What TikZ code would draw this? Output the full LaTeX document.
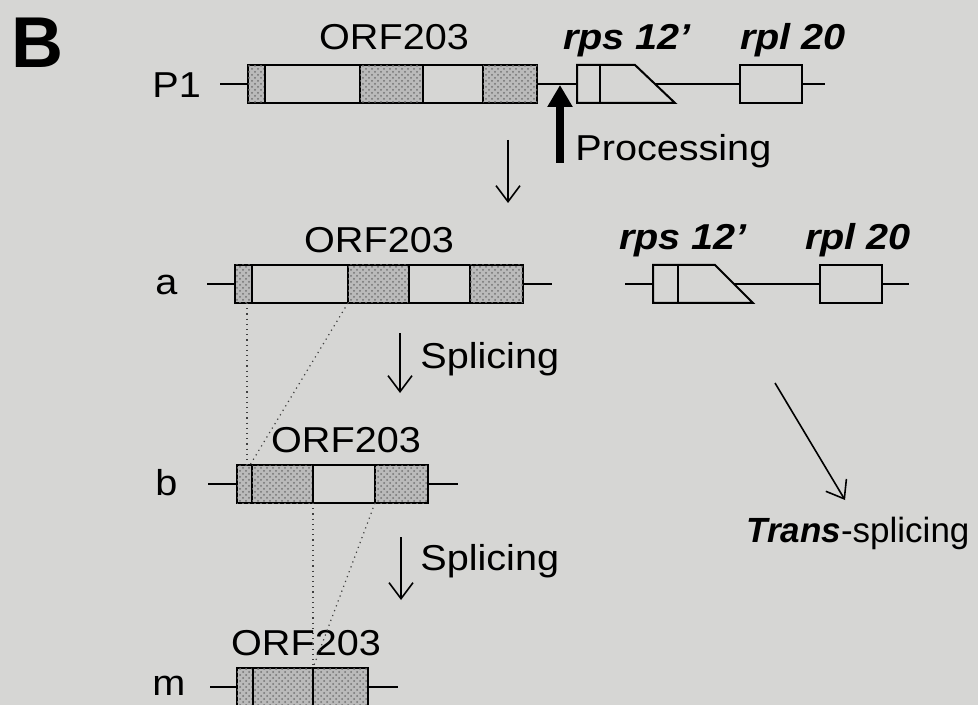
\documentclass[tikz,border=0pt]{standalone}
\usepackage{fontspec}
\setmainfont{Liberation Sans}[FakeStretch=1.1]
\newfontfamily\panelfont{Liberation Sans}
\usetikzlibrary{arrows.meta,patterns}
\definecolor{paper}{RGB}{214,214,212}

\begin{document}
\begin{tikzpicture}[x=0.5pt,y=-0.5pt,
  txt/.style={inner sep=0pt,font=\fontsize{18}{20}\selectfont},
  genename/.style={inner sep=0pt,font=\fontsize{18}{20}\selectfont\bfseries\itshape},
  strand/.style={line width=0.9pt},
  intron/.style={draw,line width=1pt},
  exon/.style={draw,line width=1pt,fill=black!27,postaction={pattern=crosshatch dots,pattern color=black!55}},
  guide/.style={dotted,line width=0.6pt,black!75},
  flow/.style={line width=0.8pt,-{Straight Barb[length=8pt,width=12pt]}}]
\useasboundingbox (0,0) rectangle (978,705);
\clip (0,0) rectangle (978,705);
\fill[paper] (0,0) rectangle (978,705);

\node[inner sep=0pt,anchor=base west,font=\panelfont\fontsize{36}{40}\selectfont\bfseries] (panel) at (11,68) {B};

% precursor P1
\node[txt,anchor=base west] (lblP) at (152,98) {P1};
\node[txt,anchor=base] (orfP) at (394,50) {ORF203};
\node[genename,anchor=base] (rpsP) at (627,50) {rps 12'};
\node[genename,anchor=base] (rplP) at (793,50) {rpl 20};
\draw[strand] (220,84) -- (248,84);
\draw[exon] (248,65) rectangle (265,103);
\draw[intron] (265,65) rectangle (360,103);
\draw[exon] (360,65) rectangle (423,103);
\draw[intron] (423,65) rectangle (483,103);
\draw[exon] (483,65) rectangle (537,103);
\draw[strand] (537,84) -- (577,84);
\draw[intron] (577,65) -- (635,65) -- (675,103) -- (577,103) -- cycle;
\draw[intron] (600,65) -- (600,103);
\draw[strand] (655,84) -- (740,84);
\draw[intron] (740,65) rectangle (802,103);
\draw[strand] (802,84) -- (825,84);

% processing site
\coordinate (cut) at (560,85);
\coordinate (cutfoot) at (560,163);
\draw[line width=4pt,-{Triangle[length=11pt,width=12pt]}] (cutfoot) -- (cut);
\node[txt,anchor=base west] (proc) at (575,161) {Processing};

\coordinate (p1out) at (508,140);
\coordinate (ain) at (508,203);
\draw[flow] (p1out) -- (ain);

% a
\node[txt,anchor=base west] (lblA) at (155,295) {a};
\node[txt,anchor=base] (orfA) at (379,253) {ORF203};
\draw[strand] (207,284) -- (235,284);
\draw[exon] (235,265) rectangle (252,303);
\draw[intron] (252,265) rectangle (348,303);
\draw[exon] (348,265) rectangle (409,303);
\draw[intron] (409,265) rectangle (470,303);
\draw[exon] (470,265) rectangle (523,303);
\draw[strand] (523,284) -- (552,284);

\node[genename,anchor=base] (rpsA) at (683,250) {rps 12'};
\node[genename,anchor=base] (rplA) at (858,250) {rpl 20};
\draw[strand] (625,284) -- (653,284);
\draw[intron] (653,265) -- (715,265) -- (753,303) -- (653,303) -- cycle;
\draw[intron] (678,265) -- (678,303);
\draw[strand] (734,284) -- (820,284);
\draw[intron] (820,265) rectangle (882,303);
\draw[strand] (882,284) -- (909,284);

\coordinate (aout) at (400,333);
\coordinate (bin) at (400,393);
\draw[flow] (aout) -- (bin);
\node[txt,anchor=base west] (spl1) at (420,368) {Splicing};

\coordinate (tsout) at (775,383);
\coordinate (tsin) at (845,500);
\draw[flow] (tsout) -- (tsin);
\node[inner sep=0pt,anchor=base west,font=\panelfont\fontsize{17.5}{20}\selectfont] (trans) at (746,542) {\textbf{\textit{Trans}}-splicing};

% b
\node[txt,anchor=base west] (lblB) at (155,495) {b};
\node[txt,anchor=base] (orfB) at (346,452) {ORF203};
\draw[strand] (208,484) -- (237,484);
\draw[exon] (237,465) rectangle (252,503);
\draw[exon] (252,465) rectangle (313,503);
\draw[intron] (313,465) rectangle (375,503);
\draw[exon] (375,465) rectangle (428,503);
\draw[strand] (428,484) -- (458,484);

\coordinate (a1) at (247,303);
\coordinate (a2) at (348,303);
\coordinate (bj) at (250,465);
\draw[guide] (a1) -- (a1 |- bj);
\draw[guide] (a2) -- (bj);

\coordinate (bout) at (401,537);
\coordinate (min) at (401,600);
\draw[flow] (bout) -- (min);
\node[txt,anchor=base west] (spl2) at (420,570) {Splicing};

% m
\node[txt,anchor=base west] (lblM) at (152,695) {m};
\node[txt,anchor=base] (orfM) at (306,655) {ORF203};
\draw[strand] (210,687) -- (237,687);
\draw[exon] (237,668) rectangle (253,706);
\draw[exon] (253,668) rectangle (313,706);
\draw[exon] (313,668) rectangle (368,706);
\draw[strand] (368,687) -- (398,687);

\coordinate (b1) at (313,503);
\coordinate (b2) at (375,503);
\coordinate (mj) at (313,668);
\draw[guide] (b1) -- (mj);
\draw[guide] (b2) -- (mj);
\end{tikzpicture}
\end{document}
